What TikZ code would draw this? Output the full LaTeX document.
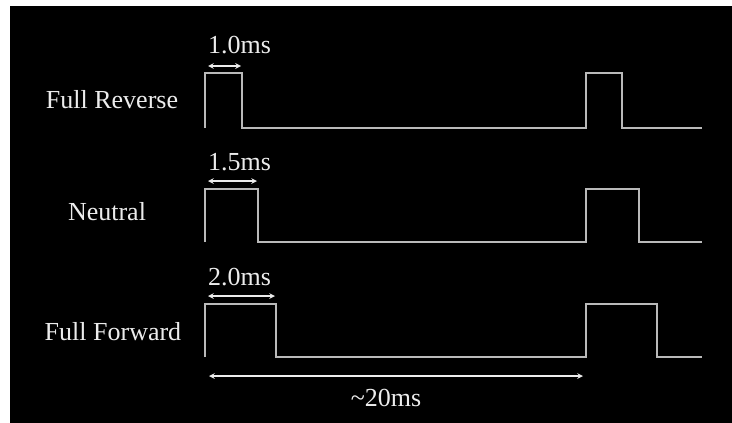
\documentclass[tikz,border=0pt]{standalone}
\usepackage{fontspec}
\setmainfont{Liberation Serif}
\usetikzlibrary{arrows}

\begin{document}
\begin{tikzpicture}[x=1pt,y=-1pt,font=\fontsize{26}{28}\selectfont]
\fill[white] (0,0) rectangle (732,423);
\fill[black] (10,6) rectangle (732,423);
% pulse trains
\draw[gray!55,line width=2pt] (205,128) -- (205,73) -- (242,73) -- (242,128) -- (586,128) -- (586,73) -- (622,73) -- (622,128) -- (702,128);
\draw[gray!55,line width=2pt] (205,242) -- (205,189) -- (258,189) -- (258,242) -- (586,242) -- (586,189) -- (639,189) -- (639,242) -- (702,242);
\draw[gray!55,line width=2pt] (205,357) -- (205,304) -- (276,304) -- (276,357) -- (586,357) -- (586,304) -- (657,304) -- (657,357) -- (702,357);
% labels
\node[white!85!gray] (rev) at (112,100) {Full Reverse};
\node[white!85!gray] (neu) at (107,212) {Neutral};
\node[white!85!gray] (fwd) at (113,332) {Full Forward};
\node[white!85!gray,anchor=west,inner sep=0pt] (t10) at (208,45) {1.0ms};
\node[white!85!gray,anchor=west,inner sep=0pt] (t15) at (208,162) {1.5ms};
\node[white!85!gray,anchor=west,inner sep=0pt] (t20) at (208,277) {2.0ms};
\node[white!85!gray] (t2x) at (386,398) {\textasciitilde20ms};
% widths
\coordinate (a1) at (208,66); \coordinate (b1) at (241,66);
\coordinate (a2) at (208,181); \coordinate (b2) at (257,181);
\coordinate (a3) at (208,296); \coordinate (b3) at (275,296);
\coordinate (a4) at (209,376); \coordinate (b4) at (583,376);
\draw[white!85!gray,line width=1.5pt,>=stealth,<->] (a1) -- (b1);
\draw[white!85!gray,line width=1.5pt,>=stealth,<->] (a2) -- (b2);
\draw[white!85!gray,line width=1.5pt,>=stealth,<->] (a3) -- (b3);
\draw[white!85!gray,line width=1.5pt,>=stealth,<->] (a4) -- (b4);
\end{tikzpicture}
\end{document}
